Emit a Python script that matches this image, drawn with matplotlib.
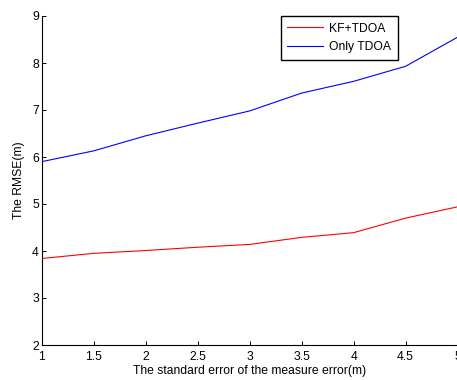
import matplotlib
matplotlib.use("Agg")
import matplotlib.pyplot as plt

x = [1, 1.5, 2, 2.5, 3, 3.5, 4, 4.5, 5]
kf_tdoa = [3.84, 3.95, 4.01, 4.08, 4.14, 4.29, 4.39, 4.70, 4.94]
only_tdoa = [5.90, 6.13, 6.45, 6.72, 6.98, 7.36, 7.61, 7.93, 8.55]
xticks = [1, 1.5, 2, 2.5, 3, 3.5, 4, 4.5, 5]
yticks = [2, 3, 4, 5, 6, 7, 8, 9]

plt.rcParams['font.family'] = ['Liberation Sans', 'DejaVu Sans']

fig = plt.figure(figsize=(4.57, 3.8), dpi=100)
ax = fig.add_axes([41.6 / 457, 35 / 380, 416 / 457, 329 / 380])
ax.plot(x, kf_tdoa, color='#ff0000', lw=0.8, label='KF+TDOA')
ax.plot(x, only_tdoa, color='#0000ff', lw=0.8, label='Only TDOA')
ax.set_xlim(1, 5)
ax.set_ylim(2, 9)
ax.set_xticks(xticks)
ax.set_xticklabels([f'{t:g}' for t in xticks])
ax.set_yticks(yticks)
ax.tick_params(direction='in', length=3, width=0.7, labelsize=8.7)
ax.tick_params(axis='x', pad=4)
ax.tick_params(axis='y', pad=2)
for s in ['top', 'right']:
    ax.spines[s].set_visible(False)
for s in ['left', 'bottom']:
    ax.spines[s].set_linewidth(0.8)
ax.set_xlabel('The standard error of the measure error(m)', fontsize=8.7, labelpad=2)
ax.set_ylabel('The RMSE(m)', fontsize=8.7, labelpad=5)
leg = ax.legend(loc='upper right', bbox_to_anchor=(0.857, 1.0), fontsize=8.7,
                fancybox=False, framealpha=1, edgecolor='black',
                borderaxespad=0, handlelength=3.0, borderpad=0.55, labelspacing=0.55,
                handletextpad=0.5)
leg.get_frame().set_linewidth(1.0)
fig.savefig('out.png', dpi=100)
